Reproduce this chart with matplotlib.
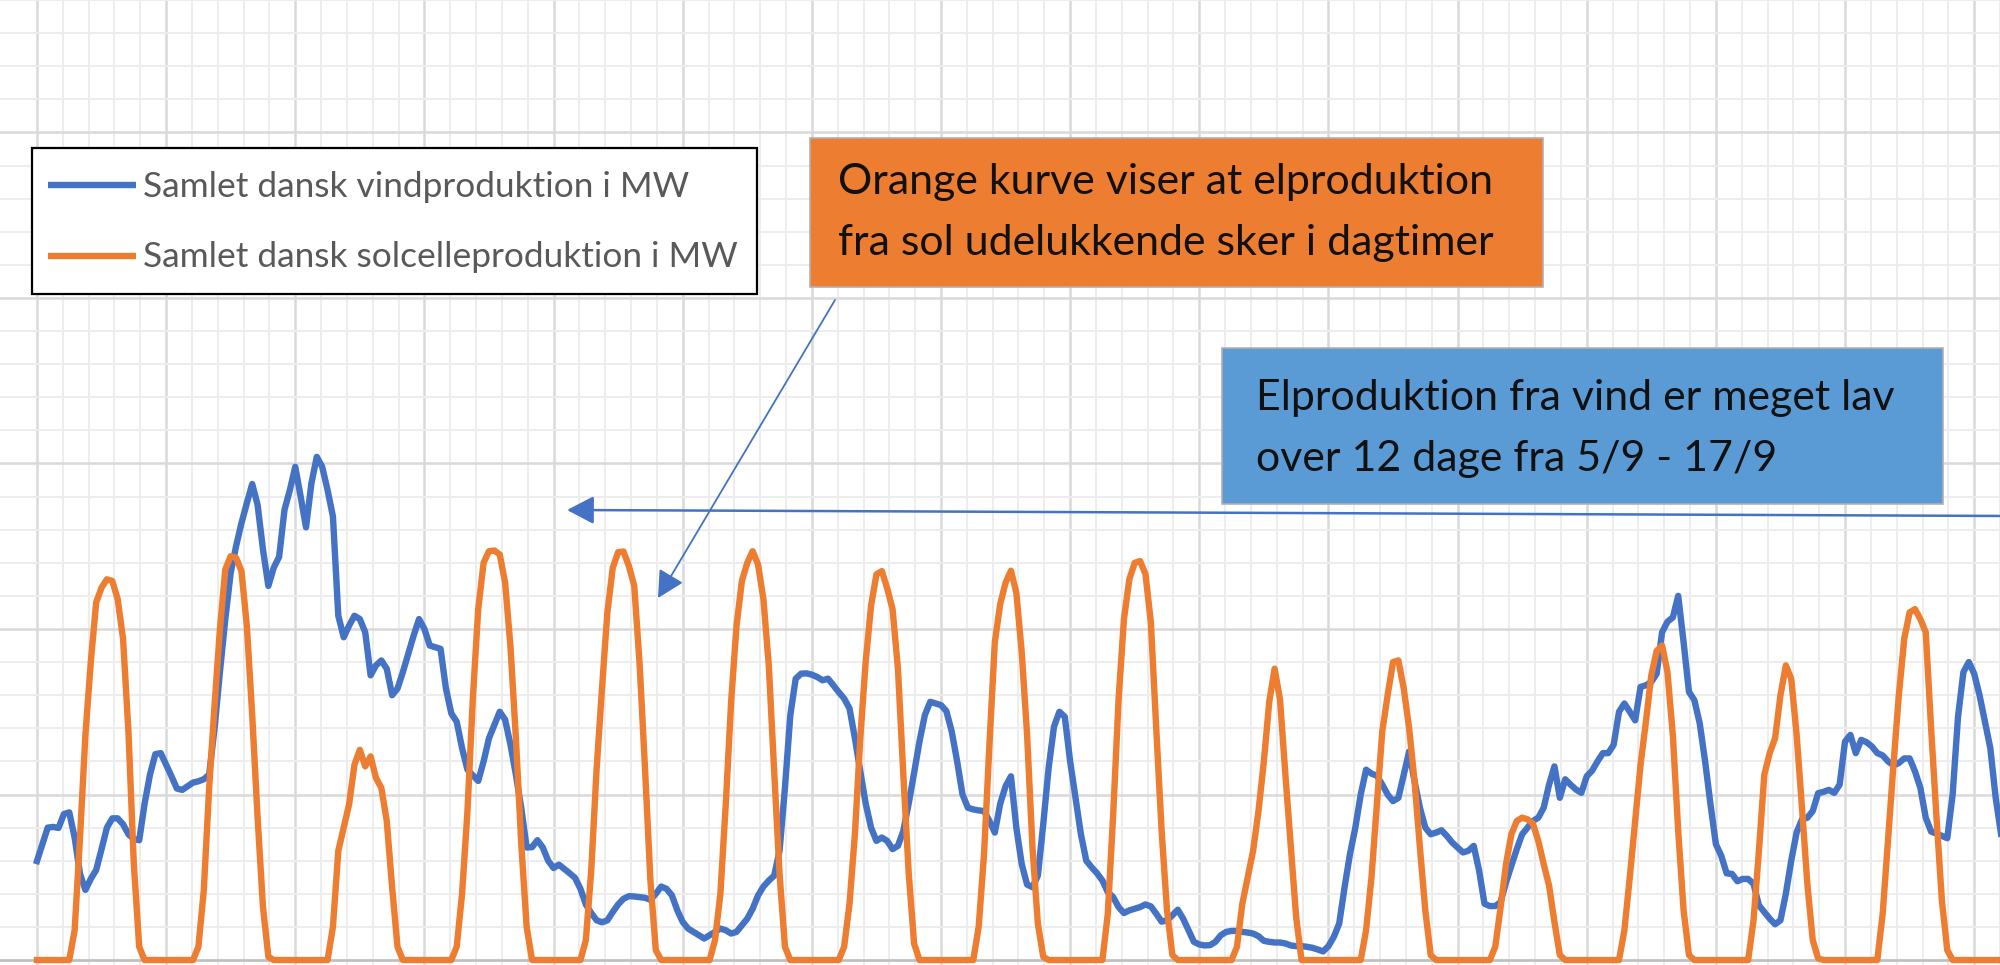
import numpy as np
import matplotlib
matplotlib.use("Agg")
import matplotlib.pyplot as plt
from matplotlib.patches import Rectangle, FancyArrowPatch, ArrowStyle
from matplotlib.lines import Line2D

W, H = 2000, 965          # output size in pixels
FONT = ['Lato', 'DejaVu Sans']

#-----------------------
#   data (MW, one value per hour, one row per day)
#-----------------------
wind_mw = [
    299, 350, 400, 402, 399, 441, 446, 370, 260, 212, 245, 272, 335, 400, 428, 428, 410, 380, 365, 362, 472, 560, 622, 625,
    590, 555, 518, 514, 525, 536, 540, 546, 560, 700, 870, 1030, 1170, 1250, 1320, 1380, 1438, 1375, 1240, 1130, 1185, 1218, 1360, 1420,
    1490, 1400, 1307, 1440, 1520, 1490, 1420, 1340, 1040, 975, 1010, 1040, 1030, 990, 860, 890, 905, 880, 800, 820, 870, 925, 980, 1030,
    1000, 950, 945, 940, 820, 745, 720, 640, 575, 558, 541, 600, 670, 710, 750, 726, 650, 560, 459, 340, 341, 362, 340, 300,
    278, 288, 275, 262, 248, 215, 168, 142, 120, 114, 120, 145, 168, 185, 193, 192, 190, 188, 182, 200, 222, 215, 195, 150,
    115, 95, 85, 75, 65, 75, 85, 95, 90, 80, 85, 105, 125, 155, 195, 222, 240, 255, 330, 520, 740, 850, 865, 866,
    862, 855, 845, 850, 830, 809, 790, 760, 670, 570, 473, 400, 360, 370, 360, 335, 345, 390, 473, 565, 660, 740, 780, 775,
    770, 752, 690, 600, 500, 460, 455, 452, 450, 420, 385, 472, 525, 555, 400, 290, 228, 220, 255, 410, 580, 705, 750, 735,
    600, 490, 380, 300, 280, 262, 240, 205, 190, 160, 142, 150, 155, 160, 168, 162, 140, 116, 120, 135, 152, 125, 90, 55,
    47, 44, 45, 55, 75, 85, 88, 88, 85, 83, 80, 72, 58, 55, 53, 53, 50, 44, 42, 42, 40, 37, 32, 26,
    42, 70, 110, 220, 320, 400, 500, 575, 563, 557, 530, 500, 480, 490, 560, 630, 540, 460, 400, 380, 385, 392, 375, 355,
    340, 325, 330, 345, 270, 170, 163, 163, 175, 235, 285, 335, 380, 400, 420, 430, 460, 530, 585, 490, 546, 530, 515, 505,
    555, 572, 600, 625, 625, 650, 750, 775, 750, 724, 825, 830, 840, 865, 990, 1022, 1035, 1100, 960, 810, 785, 715, 600, 470,
    350, 315, 262, 260, 238, 245, 245, 230, 165, 145, 125, 108, 120, 200, 300, 385, 425, 430, 450, 504, 508, 514, 505, 530,
    660, 680, 625, 665, 658, 645, 625, 618, 600, 588, 595, 609, 609, 570, 520, 430, 388, 382, 375, 368, 500, 735, 870, 900,
    865, 800, 720, 640, 490, 380,
]

solar_mw = [
    0, 0, 0, 0, 0, 0, 0, 90, 370, 680, 900, 1080, 1125, 1150, 1145, 1090, 970, 690, 290, 40, 0, 0, 0, 0,
    0, 0, 0, 0, 0, 0, 40, 210, 520, 770, 1000, 1180, 1220, 1215, 1175, 1010, 740, 430, 160, 10, 0, 0, 0, 0,
    0, 0, 0, 0, 0, 0, 0, 100, 330, 400, 470, 590, 635, 585, 615, 550, 520, 420, 220, 40, 0, 0, 0, 0,
    0, 0, 0, 0, 0, 0, 40, 200, 450, 790, 1060, 1200, 1235, 1237, 1225, 1140, 945, 670, 350, 100, 0, 0, 0, 0,
    0, 0, 0, 0, 0, 0, 60, 270, 577, 820, 1050, 1185, 1232, 1234, 1190, 1130, 892, 577, 240, 30, 0, 0, 0, 0,
    0, 0, 0, 0, 0, 0, 60, 200, 470, 780, 1010, 1145, 1200, 1235, 1195, 1090, 890, 570, 260, 40, 0, 0, 0, 0,
    0, 0, 0, 0, 0, 0, 40, 170, 380, 670, 900, 1070, 1165, 1175, 1123, 1060, 880, 560, 262, 50, 0, 0, 0, 0,
    0, 0, 0, 0, 0, 0, 0, 100, 320, 650, 960, 1075, 1140, 1176, 1110, 930, 680, 340, 110, 10, 0, 0, 0, 0,
    0, 0, 0, 0, 0, 0, 0, 140, 440, 787, 1030, 1150, 1200, 1205, 1166, 1020, 700, 390, 150, 15, 0, 0, 0, 0,
    0, 0, 0, 0, 0, 0, 0, 40, 170, 250, 330, 450, 600, 780, 880, 787, 560, 345, 130, 0, 0, 0, 0, 0,
    0, 0, 0, 0, 0, 0, 0, 90, 250, 472, 690, 800, 900, 905, 820, 700, 540, 340, 150, 15, 0, 0, 0, 0,
    0, 0, 0, 0, 0, 0, 0, 40, 160, 290, 380, 420, 430, 425, 412, 360, 290, 225, 115, 15, 0, 0, 0, 0,
    0, 0, 0, 0, 0, 0, 0, 90, 250, 420, 590, 720, 860, 934, 950, 870, 680, 390, 150, 15, 0, 0, 0, 0,
    0, 0, 0, 0, 0, 0, 0, 120, 330, 560, 625, 670, 800, 890, 850, 682, 460, 230, 60, 5, 0, 0, 0, 0,
    0, 0, 0, 0, 0, 0, 0, 140, 367, 590, 800, 970, 1050, 1060, 1030, 990, 700, 430, 180, 30, 0, 0, 0, 0,
    0, 0, 0, 0, 0, 0,
]

hours = np.arange(len(wind_mw))

legend_labels = ["Samlet dansk vindproduktion i MW", "Samlet dansk solcelleproduktion i MW"]
note_sun = ["Orange kurve viser at elproduktion", "fra sol udelukkende sker i dagtimer"]
note_wind = ["Elproduktion fra vind er meget lav", "over 12 dage fra 5/9 - 17/9"]

BLUE = '#4472C4'
ORANGE = '#ED7D31'
BOX_BLUE = '#5B9BD5'
LW = 4.6


def px(x, y):
    """pixel position (from top left) -> figure fraction"""
    return x / W, 1 - y / H


def fit_size(fig, txt, width_px):
    t = fig.text(0, 0, txt, fontsize=20, family=FONT)
    w = t.get_window_extent(fig.canvas.get_renderer()).width
    t.remove()
    return 20 * width_px / w


fig = plt.figure(figsize=(W / 100, H / 100), dpi=100)
ax = fig.add_axes([0, 0, 1, 1])

# the picture is a crop of a bigger chart: x in hours, y in MW
ax.set_xlim(-6.87, 364.36)
ax.set_ylim(-15, 2891)
ax.set_xticks(np.arange(0, 365, 24))
ax.set_xticks(np.arange(0, 365, 4.8), minor=True)
ax.set_yticks(np.arange(0, 3000, 500))
ax.set_yticks(np.arange(0, 3000, 100), minor=True)
ax.tick_params(which='both', length=0, labelbottom=False, labelleft=False)
for s in ax.spines.values():
    s.set_visible(False)
ax.grid(which='minor', color='#EDEDED', lw=1.4)
ax.grid(which='major', color='#D9D9D9', lw=1.8)
ax.set_axisbelow(True)
ax.axhline(0, color='#BFBFBF', lw=1.8, zorder=1)

ax.plot(hours, wind_mw, color=BLUE, lw=LW, solid_joinstyle='round', zorder=3)
ax.plot(hours, solar_mw, color=ORANGE, lw=LW, solid_joinstyle='round', zorder=4)

#-----------------------
#   legend box
#-----------------------
fig.add_artist(Rectangle(px(32, 294), 725 / W, 146 / H, transform=fig.transFigure,
                         fc='white', ec='black', lw=1.6, zorder=5))
leg_fs = fit_size(fig, legend_labels[0], 547)
for lab, col, yl, yb in zip(legend_labels, [BLUE, ORANGE], [185, 256], [197, 267]):
    x0, y0 = px(48, yl)
    x1, _ = px(136, yl)
    fig.add_artist(Line2D([x0, x1], [y0, y0], transform=fig.transFigure, color=col,
                          lw=LW, solid_capstyle='butt', zorder=6))
    fig.text(*px(143, yb), lab, fontsize=leg_fs, family=FONT, color='#595959',
             va='baseline', ha='left', zorder=6)

#-----------------------
#   note boxes
#-----------------------
note_fs = fit_size(fig, note_wind[0], 642)

fig.add_artist(Rectangle(px(810, 287), 733 / W, 149 / H, transform=fig.transFigure,
                         fc=ORANGE, ec='#B0B0B0', lw=1.2, zorder=5))
for line, yb in zip(note_sun, [194, 255]):
    fig.text(*px(838, yb), line, fontsize=note_fs, family=FONT, color='#111111',
             va='baseline', ha='left', zorder=6)

fig.add_artist(Rectangle(px(1222, 504), 721 / W, 156 / H, transform=fig.transFigure,
                         fc=BOX_BLUE, ec='#B0B0B0', lw=1.2, zorder=5))
for line, yb in zip(note_wind, [410, 471]):
    fig.text(*px(1256, yb), line, fontsize=note_fs, family=FONT, color='#111111',
             va='baseline', ha='left', zorder=6)

#-----------------------
#   arrows
#-----------------------
head = ArrowStyle('-|>', head_length=16.5, head_width=8.6)
fig.add_artist(FancyArrowPatch(px(2010, 516), px(567, 510), transform=fig.transFigure,
                               arrowstyle=head, mutation_scale=1, color=BLUE, lw=1.8,
                               shrinkA=0, shrinkB=0, zorder=6))
fig.add_artist(FancyArrowPatch(px(835, 300), px(658, 598), transform=fig.transFigure,
                               arrowstyle=head, mutation_scale=1, color=BLUE, lw=1.3,
                               shrinkA=0, shrinkB=0, zorder=6))

fig.savefig('out.png', dpi=100)
